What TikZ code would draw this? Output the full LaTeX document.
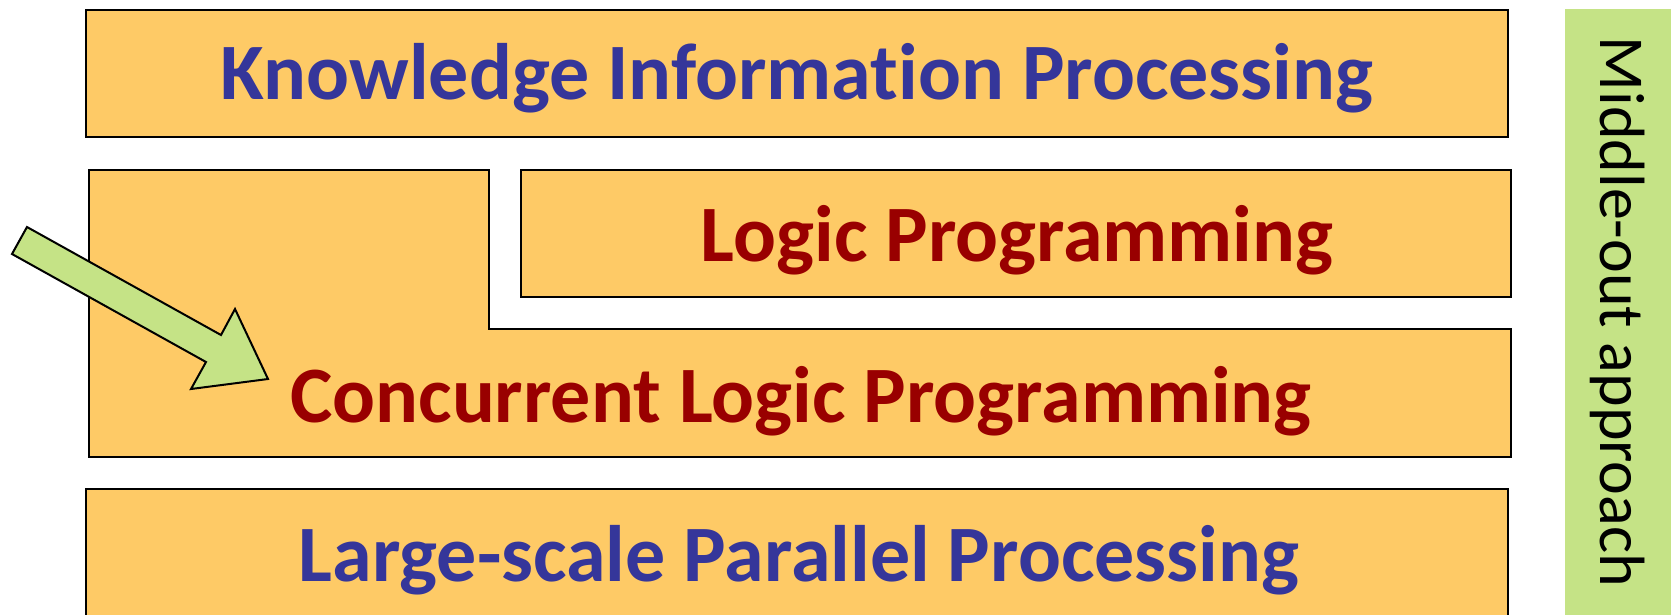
\documentclass[tikz,border=0pt]{standalone}
\usepackage{fontspec}
\setmainfont{Carlito}[Ligatures=CommonOff]
\definecolor{layerfill}{HTML}{FECA66}
\definecolor{sidegreen}{HTML}{C5E386}
\definecolor{titleblue}{HTML}{35369A}
\definecolor{titlered}{HTML}{990000}
\tikzset{
  layer/.style={draw=black, line width=2pt, fill=layerfill},
  bluetext/.style={font=\fontsize{80}{92}\selectfont\bfseries, text=titleblue, inner sep=0pt},
  redtext/.style={font=\fontsize{80}{92}\selectfont\bfseries, text=titlered, inner sep=0pt},
  sidetext/.style={font=\fontsize{64}{70}\selectfont, text=black, rotate=-90, inner sep=0pt},
  greenarrow/.style={draw=black, line width=2pt, fill=sidegreen, line join=miter}
}
\begin{document}
\begin{tikzpicture}[x=1pt, y=-1pt]
  \useasboundingbox (0,0) rectangle (1671,614);
  \clip (0,0) rectangle (1671,614);

  % side bar
  \fill[sidegreen] (1565,9) rectangle (1680,620);
  \node[sidetext] (side) at (1618,312) {Middle-out approach};

  % top layer
  \draw[layer] (86,10) rectangle (1508,137);
  \node[bluetext] (kip) at (797,78) {Knowledge Information Processing};

  % logic programming layer
  \draw[layer] (521,170) rectangle (1511,297);
  \node[redtext] (lp) at (1017,240) {Logic Programming};

  % concurrent logic programming, L-shaped layer
  \draw[layer] (89,170) -- (489,170) -- (489,329) -- (1511,329)
               -- (1511,457) -- (89,457) -- cycle;
  \node[redtext] (clp) at (801,401) {Concurrent Logic Programming};

  % bottom layer
  \draw[layer] (86,489) rectangle (1508,640);
  \node[bluetext] (lpp) at (799,560) {Large-scale Parallel Processing};

  % block arrow pointing into the middle layer
  \draw[greenarrow] (27,227) -- (221,335) -- (235,309) -- (268,379)
                    -- (191,389) -- (206,362) -- (12,254) -- cycle;
\end{tikzpicture}
\end{document}
